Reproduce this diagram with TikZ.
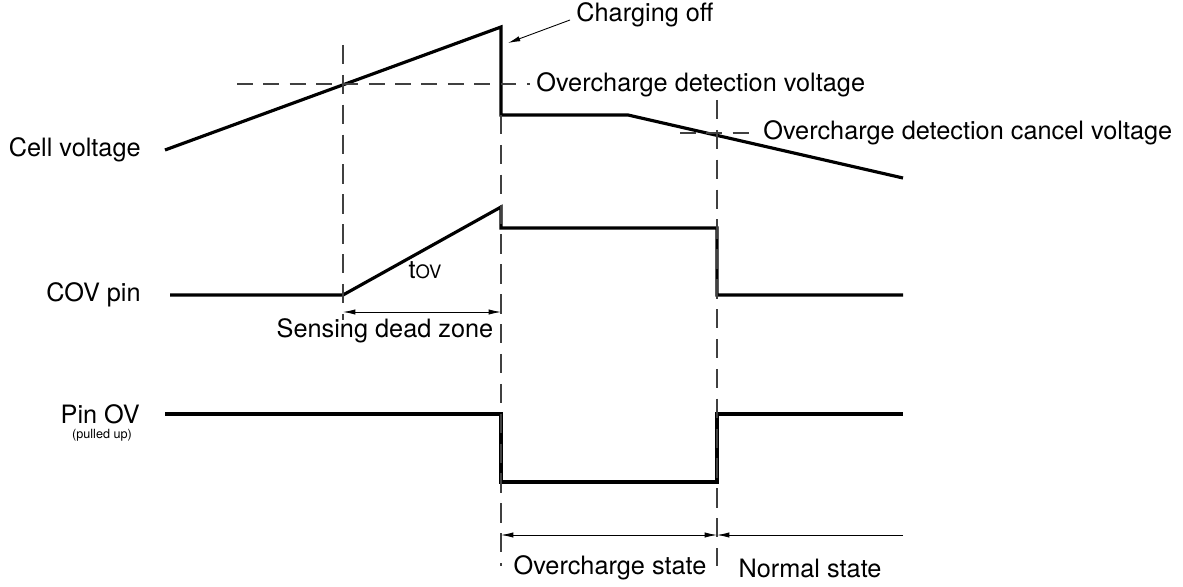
\documentclass[tikz,border=0pt]{standalone}
\usepackage{fontspec}
\setmainfont{TeX Gyre Heros}
\usetikzlibrary{arrows.meta}
\tikzset{
  sig/.style={line width=1.8pt, line join=miter},
  guide/.style={line width=0.7pt, black!75, dash pattern=on 11pt off 6pt},
  hguide/.style={line width=0.7pt, black!75, dash pattern=on 9pt off 6pt},
  dim/.style={line width=0.5pt, {Latex[length=7pt,width=3pt]}-{Latex[length=7pt,width=3pt]}},
  lbl/.style={inner sep=0pt, font=\fontsize{14.4}{17}\selectfont},
}
\begin{document}
\begin{tikzpicture}[x=0.02cm,y=-0.02cm]
\useasboundingbox (0,0) rectangle (1183,587);
% cell voltage
\coordinate (cv0) at (165,150);
\coordinate (cv1) at (501,27);
\coordinate (cv2) at (501,115);
\coordinate (cv3) at (628,115);
\coordinate (cv4) at (903,178);
\draw[sig] (cv0) -- (cv1) -- (cv2) -- (cv3) -- (cv4);
% COV pin
\coordinate (cov0) at (170,295);
\coordinate (cov1) at (343,295);
\coordinate (cov2) at (501,207);
\coordinate (cov3) at (501,228);
\coordinate (cov4) at (717,228);
\coordinate (cov5) at (717,295);
\coordinate (cov6) at (903,295);
\draw[sig] (cov0) -- (cov1) -- (cov2) -- (cov3) -- (cov4) -- (cov5) -- (cov6);
% pin OV
\coordinate (ov0) at (165,414);
\coordinate (ov1) at (501,414);
\coordinate (ov2) at (501,482);
\coordinate (ov3) at (717,482);
\coordinate (ov4) at (717,414);
\coordinate (ov5) at (903,414);
\draw[sig] (ov0) -- (ov1) -- (ov2) -- (ov3) -- (ov4) -- (ov5);
% guide lines
\coordinate (g1t) at (343,45);
\coordinate (g1b) at (343,320);
\coordinate (g2t) at (501,115);
\coordinate (g2b) at (501,566);
\coordinate (g3t) at (717,100);
\coordinate (g3b) at (717,566);
\coordinate (hdl) at (237,84);
\coordinate (hdr) at (530,84);
\coordinate (hcl) at (680,133);
\coordinate (hcr) at (756,133);
\draw[guide] (g1t) -- (g1b);
\draw[guide] (g2t) -- (g2b);
\draw[guide] (g3t) -- (g3b);
\draw[hguide] (hdl) -- (hdr);
\draw[hguide] (hcl) -- (hcr);
% labels
\node[lbl, anchor=east] (cell) at (141,150) {Cell voltage};
\node[lbl, anchor=east] (covpin) at (141,295) {COV pin};
\node[lbl, anchor=east] (pinov) at (140,414) {Pin OV};
\node[inner sep=0pt, font=\fontsize{7.2}{8}\selectfont] (pull) at (102,435) {(pulled up)};
\node[lbl, anchor=west] (choff) at (576,15) {Charging off};
\node[lbl, anchor=west] (detv) at (536,85) {Overcharge detection voltage};
\node[lbl, anchor=west] (canv) at (763,133) {Overcharge detection cancel voltage};
\node[lbl] (tov) at (425,270) {t{\fontsize{10.5}{12}\selectfont OV}};
\node[lbl] (dead) at (385,331) {Sensing dead zone};
\node[lbl] (ocs) at (610,568) {Overcharge state};
\node[lbl] (nrm) at (810,568) {Normal state};
% arrows
\coordinate (cho) at (570,20);
\coordinate (chi) at (508,43);
\draw[line width=0.5pt, -{Latex[length=7pt,width=3pt]}] (cho) -- (chi);
\coordinate (tova) at (343,312);
\coordinate (tovb) at (501,312);
\draw[dim] (tova) -- (tovb);
\coordinate (osa) at (501,535);
\coordinate (osb) at (717,535);
\coordinate (nsb) at (903,535);
\draw[dim] (osa) -- (osb);
\draw[line width=0.5pt, -{Latex[length=7pt,width=3pt]}] (nsb) -- (osb);
\end{tikzpicture}
\end{document}
